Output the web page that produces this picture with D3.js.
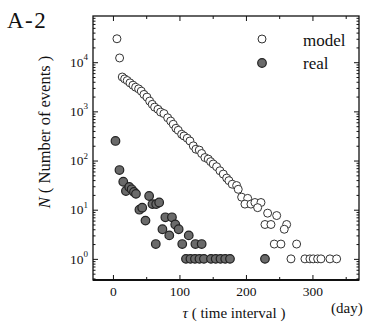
<!DOCTYPE html>
<html><head><meta charset="utf-8">
<script src="https://cdn.jsdelivr.net/npm/d3@7"></script>
<style>body{margin:0;background:#fff}svg{display:block}</style>
</head><body><svg id="c" width="370" height="327"></svg>
<script>
// ---- data ----
const modelTau = [6,10,14,17.6,21.5,25.6,30.1,34.1,38.6,42.6,46.6,51.1,55.2,59.1,62.7,67.7,71.7,76.7,82.3,86.8,90.7,94.7,98.2,103.3,106.8,111.7,115.8,120.8,124.8,129.8,133.4,138.3,143.3,146.9,150.8,155.9,160.9,165.9,171,174.4,179.4,186,188.4,193.5,202.6,198.5,207.5,213.5,222.6,217.6,232.6,246.2,228.6,237.6,261.2,257.6,242.6,252.6,276.2,267.7,288.7,296.2,301.2,307.8,312.8,326.3,336.4];
const modelN   = [30000,12200,5000,4570,4240,3800,3410,3100,2870,2580,2210,1950,1620,1390,1220,1100,968,902,741,636,546,453,412,342,316,284,250,199,170,163,139,115,107,95,85,75,62,53,44,39,33,31,26,18,17,13,13,14,14,11,8.5,7.6,5,5,5,4,2,2,2,1,1,1,1,1,1,1,1];
const realTau  = [3.8,9.8,15.5,19.5,24.5,28.1,31.6,34.6,39.8,44,48.9,54.4,59.4,65,69.5,64.4,74.4,78.8,88.7,84.7,93.7,98.8,104.2,114,124,133.4,109.8,116.5,123.3,130.1,136.8,147.4,154.5,161.7,168.8,176,228.6];
const realN    = [250,64,37,24,29,26,23,21,10,11,6,19,13,13,14,2,4,7,7,3,5,4,2,3,2,2,1,1,1,1,1,1,1,1,1,1,1];
const xTicks = [0,100,200,300];
const xMinorTicks = [50,150,250,350];
const yTicks = [1,10,100,1000,10000];
const yTickExp = ["0","1","2","3","4"];
const legendLabels = ["model","real"];
const panelLabel = "A-2";

// ---- layout ----
const svg = d3.select("#c");
const FONT = "'Liberation Serif','Times New Roman',serif";
const L = 93, R = 359, T = 16, B = 280;
const x = d3.scaleLinear().domain([-30,370]).range([L,R]);
const y = d3.scaleLog().domain([Math.pow(10,-0.43), Math.pow(10,4.94)]).range([B,T]);

svg.append("rect").attr("width",370).attr("height",327).attr("fill","#fff");

const yMinor = [];
for (let e=-1;e<=4;e++) for (let m=2;m<=9;m++){ const v=m*Math.pow(10,e); if(v>=y.domain()[0]&&v<=y.domain()[1]) yMinor.push(v); }

function axisStyle(g){ g.select(".domain").remove(); g.selectAll("line").attr("stroke","#111").attr("stroke-width",1); }

svg.append("g").attr("transform",`translate(0,${B})`)
  .call(d3.axisBottom(x).tickValues(xTicks).tickSizeInner(-5).tickSizeOuter(0).tickPadding(6))
  .call(axisStyle)
  .call(g=>g.selectAll("text").attr("font-family",FONT).attr("font-size",13.5).attr("fill","#111"));
svg.append("g").attr("transform",`translate(0,${B})`)
  .call(d3.axisBottom(x).tickValues(xMinorTicks).tickSizeInner(-3).tickSizeOuter(0).tickFormat(""))
  .call(axisStyle);
svg.append("g").attr("transform",`translate(0,${T})`)
  .call(d3.axisTop(x).tickValues(xTicks).tickSizeInner(-5).tickSizeOuter(0).tickFormat(""))
  .call(axisStyle);
svg.append("g").attr("transform",`translate(0,${T})`)
  .call(d3.axisTop(x).tickValues(xMinorTicks).tickSizeInner(-3).tickSizeOuter(0).tickFormat(""))
  .call(axisStyle);
svg.append("g").attr("transform",`translate(${L},0)`)
  .call(d3.axisLeft(y).tickValues(yTicks).tickSizeInner(-5).tickSizeOuter(0).tickFormat(""))
  .call(axisStyle);
svg.append("g").attr("transform",`translate(${L},0)`)
  .call(d3.axisLeft(y).tickValues(yMinor).tickSizeInner(-2.5).tickSizeOuter(0).tickFormat(""))
  .call(axisStyle);
svg.append("g").attr("transform",`translate(${R},0)`)
  .call(d3.axisRight(y).tickValues(yTicks).tickSizeInner(-5).tickSizeOuter(0).tickFormat(""))
  .call(axisStyle);
svg.append("g").attr("transform",`translate(${R},0)`)
  .call(d3.axisRight(y).tickValues(yMinor).tickSizeInner(-2.5).tickSizeOuter(0).tickFormat(""))
  .call(axisStyle);

yTicks.forEach((v,i)=>{
  const t = svg.append("text").attr("x",88).attr("y",y(v)).attr("dy","0.35em")
    .attr("text-anchor","end").attr("font-family",FONT).attr("fill","#111").attr("font-size",13.5);
  t.append("tspan").text("10");
  t.append("tspan").attr("font-size",9).attr("dy","-0.75em").text(yTickExp[i]);
});

svg.append("rect").attr("x",L).attr("y",T).attr("width",R-L).attr("height",B-T)
  .attr("fill","none").attr("stroke","#111").attr("stroke-width",1.3);
svg.append("line").attr("x1",L).attr("x2",R).attr("y1",B).attr("y2",B).attr("stroke","#111").attr("stroke-width",2);

const model = modelTau.map((t,i)=>({t, n:modelN[i]}));
const real = realTau.map((t,i)=>({t, n:realN[i]}));
svg.append("g").selectAll("circle").data(model).join("circle")
  .attr("cx",d=>x(d.t)).attr("cy",d=>y(d.n)).attr("r",4)
  .attr("fill","#fff").attr("stroke","#333").attr("stroke-width",1);
svg.append("g").selectAll("circle").data(real).join("circle")
  .attr("cx",d=>x(d.t)).attr("cy",d=>y(d.n)).attr("r",4.3)
  .attr("fill","#6a6a6a").attr("stroke","#222").attr("stroke-width",1.2);

const lg = svg.append("g");
lg.append("circle").attr("cx",262).attr("cy",39).attr("r",4).attr("fill","#fff").attr("stroke","#333");
lg.append("circle").attr("cx",262).attr("cy",63).attr("r",4.3).attr("fill","#6a6a6a").attr("stroke","#222").attr("stroke-width",1.2);
lg.append("text").attr("x",303).attr("y",46).text(legendLabels[0]);
lg.append("text").attr("x",303).attr("y",69).text(legendLabels[1]);
lg.selectAll("text").attr("font-family",FONT).attr("font-size",17).attr("fill","#111");

svg.append("text").attr("x",7).attr("y",28).attr("font-family",FONT).attr("font-size",23)
  .attr("letter-spacing",1.5).attr("fill","#111").text(panelLabel);

const yt = svg.append("text").attr("transform","translate(50,132) rotate(-90)")
  .attr("text-anchor","middle").attr("font-family",FONT).attr("font-size",16.5).attr("fill","#111");
yt.append("tspan").attr("font-style","italic").text("N");
yt.append("tspan").text(" ( Number of events )");

const xt = svg.append("text").attr("x",234).attr("y",318).attr("text-anchor","middle")
  .attr("font-family",FONT).attr("font-size",15).attr("fill","#111");
xt.append("tspan").attr("font-style","italic").text("τ");
xt.append("tspan").text(" ( time interval )");

svg.append("text").attr("x",331).attr("y",313).attr("font-family",FONT).attr("font-size",15)
  .attr("fill","#111").text("(day)");
</script>
</body></html>
